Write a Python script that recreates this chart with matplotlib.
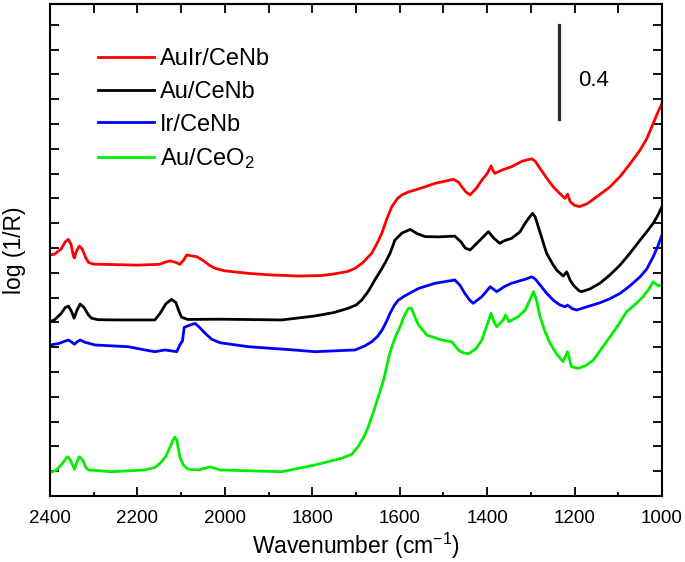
#Plot of the DRIFT spectra for the CeNb catalysts

#imports
import matplotlib
matplotlib.use("Agg")
import matplotlib.pyplot as plt

plt.rcParams['font.family'] = ['Liberation Sans', 'DejaVu Sans']
plt.rcParams['mathtext.fontset'] = 'custom'
plt.rcParams['mathtext.rm'] = 'Liberation Sans'
plt.rcParams['mathtext.it'] = 'Liberation Sans'

#data (wavenumber in cm-1, log(1/R) in arbitrary offset units)
auirWn = [2400, 2390, 2375, 2365, 2358, 2352, 2346, 2344, 2340, 2333, 2326, 2318, 2312, 2300,
          2200, 2150, 2135, 2125, 2112, 2103, 2095, 2087, 2075, 2064, 2050, 2035, 2022, 2000,
          1947, 1900, 1833, 1780, 1756, 1720, 1702, 1685, 1664, 1650, 1641, 1630, 1618, 1605,
          1595, 1580, 1565, 1540, 1519, 1495, 1477, 1465, 1458, 1448, 1439, 1425, 1412, 1400,
          1391, 1386, 1382, 1365, 1344, 1320, 1298, 1290, 1279, 1265, 1249, 1235, 1222, 1216,
          1210, 1200, 1188, 1170, 1149, 1120, 1096, 1075, 1050, 1035, 1020, 1010, 1000]
auirY = [0.972, 0.975, 0.995, 1.025, 1.035, 1.015, 0.965, 0.960, 0.985, 1.008, 0.995, 0.960, 0.942, 0.935,
         0.931, 0.934, 0.944, 0.948, 0.942, 0.934, 0.950, 0.972, 0.968, 0.965, 0.950, 0.930, 0.918, 0.908,
         0.898, 0.892, 0.887, 0.889, 0.894, 0.905, 0.918, 0.940, 0.979, 1.025, 1.059, 1.115, 1.167, 1.200,
         1.214, 1.226, 1.234, 1.248, 1.261, 1.270, 1.277, 1.265, 1.247, 1.225, 1.214, 1.240, 1.274, 1.300,
         1.331, 1.310, 1.301, 1.315, 1.328, 1.350, 1.360, 1.350, 1.321, 1.285, 1.247, 1.222, 1.200, 1.217,
         1.187, 1.172, 1.167, 1.180, 1.207, 1.245, 1.288, 1.335, 1.395, 1.440, 1.503, 1.545, 1.583]

auWn = [2400, 2390, 2375, 2365, 2358, 2351, 2345, 2338, 2331, 2322, 2312, 2305, 2290, 2250,
        2160, 2148, 2135, 2122, 2112, 2105, 2099, 2085, 2011, 1870, 1794, 1750, 1718, 1700,
        1687, 1672, 1657, 1645, 1634, 1622, 1611, 1595, 1576, 1560, 1542, 1510, 1474, 1460,
        1450, 1439, 1420, 1397, 1385, 1371, 1360, 1344, 1325, 1313, 1305, 1296, 1290, 1283,
        1264, 1250, 1241, 1226, 1218, 1210, 1203, 1190, 1184, 1165, 1142, 1120, 1096, 1075,
        1050, 1035, 1020, 1010, 1000]
auY = [0.703, 0.710, 0.735, 0.760, 0.766, 0.745, 0.717, 0.750, 0.774, 0.760, 0.730, 0.717, 0.711, 0.710,
       0.710, 0.737, 0.775, 0.793, 0.780, 0.745, 0.721, 0.712, 0.713, 0.710, 0.726, 0.740, 0.757, 0.770,
       0.790, 0.825, 0.871, 0.905, 0.938, 0.979, 1.032, 1.060, 1.075, 1.058, 1.046, 1.045, 1.048, 1.025,
       1.000, 0.992, 1.025, 1.066, 1.040, 1.019, 1.030, 1.039, 1.065, 1.100, 1.120, 1.140, 1.125, 1.086,
       0.979, 0.935, 0.911, 0.887, 0.904, 0.870, 0.851, 0.828, 0.824, 0.835, 0.858, 0.890, 0.931, 0.975,
       1.032, 1.065, 1.100, 1.130, 1.167]

irWn = [2400, 2380, 2365, 2358, 2350, 2344, 2338, 2331, 2320, 2297, 2221, 2183, 2160, 2137,
        2110, 2103, 2097, 2093, 2085, 2075, 2068, 2058, 2045, 2030, 2011, 1946, 1850, 1794,
        1702, 1680, 1664, 1650, 1640, 1630, 1622, 1612, 1603, 1590, 1575, 1557, 1519, 1495,
        1474, 1462, 1451, 1440, 1432, 1412, 1393, 1378, 1360, 1344, 1313, 1298, 1290, 1279,
        1265, 1249, 1235, 1222, 1216, 1205, 1195, 1172, 1142, 1120, 1096, 1075, 1050, 1035,
        1020, 1010, 1000]
irY = [0.609, 0.615, 0.625, 0.629, 0.620, 0.612, 0.622, 0.629, 0.620, 0.609, 0.602, 0.589, 0.582, 0.589,
       0.582, 0.609, 0.625, 0.680, 0.686, 0.692, 0.696, 0.680, 0.656, 0.632, 0.618, 0.602, 0.590, 0.582,
       0.589, 0.605, 0.622, 0.645, 0.670, 0.705, 0.737, 0.770, 0.790, 0.805, 0.820, 0.837, 0.858, 0.865,
       0.871, 0.850, 0.817, 0.790, 0.777, 0.804, 0.844, 0.824, 0.845, 0.858, 0.874, 0.884, 0.875, 0.851,
       0.820, 0.790, 0.772, 0.763, 0.770, 0.755, 0.750, 0.763, 0.779, 0.795, 0.817, 0.845, 0.884, 0.915,
       0.965, 1.005, 1.052]

ceoWn = [2400, 2385, 2370, 2362, 2358, 2352, 2344, 2338, 2333, 2325, 2318, 2312, 2259, 2183,
         2160, 2148, 2135, 2125, 2118, 2114, 2110, 2103, 2095, 2084, 2061, 2045, 2034, 2020,
         2011, 1870, 1794, 1733, 1710, 1695, 1680, 1672, 1660, 1649, 1640, 1634, 1625, 1618,
         1608, 1599, 1590, 1580, 1573, 1565, 1557, 1538, 1504, 1481, 1466, 1455, 1443, 1425,
         1412, 1400, 1391, 1384, 1378, 1363, 1358, 1350, 1329, 1313, 1300, 1294, 1287, 1279,
         1268, 1256, 1240, 1226, 1216, 1207, 1191, 1175, 1157, 1140, 1119, 1100, 1081, 1060,
         1043, 1030, 1020, 1008, 1000]
ceoY = [0.094, 0.105, 0.135, 0.155, 0.158, 0.140, 0.108, 0.140, 0.158, 0.145, 0.115, 0.105, 0.098, 0.105,
        0.115, 0.132, 0.160, 0.199, 0.228, 0.237, 0.225, 0.158, 0.125, 0.108, 0.105, 0.112, 0.118, 0.110,
        0.105, 0.098, 0.125, 0.152, 0.168, 0.199, 0.245, 0.279, 0.340, 0.400, 0.450, 0.488, 0.560, 0.602,
        0.650, 0.683, 0.725, 0.757, 0.757, 0.720, 0.690, 0.649, 0.629, 0.622, 0.589, 0.578, 0.573, 0.595,
        0.629, 0.690, 0.737, 0.700, 0.683, 0.710, 0.730, 0.703, 0.723, 0.750, 0.800, 0.824, 0.790, 0.723,
        0.665, 0.616, 0.570, 0.542, 0.582, 0.521, 0.515, 0.525, 0.548, 0.590, 0.642, 0.690, 0.743, 0.775,
        0.804, 0.835, 0.864, 0.847, 0.851]

labels = ['AuIr/CeNb', 'Au/CeNb', 'Ir/CeNb', 'Au/CeO$_2$']
colors = ['#ff0000', '#000000', '#0000ff', '#00ee00']

#scale bar (0.4 units)
barWn = [1236, 1236]
barY = [1.52, 1.90]

#Create the plot
fig = plt.figure(figsize=(6.85, 5.62), dpi=100)
ax = fig.add_axes([0.073, 0.1174, 0.8934, 0.8755])

series = [(auirWn, auirY), (auWn, auY), (irWn, irY), (ceoWn, ceoY)]
for (wn, y), lab, col in zip(series, labels, colors):
	ax.plot(wn, y, color=col, lw=2, label=lab)

ax.plot(barWn, barY, color='#2e2824', lw=2.3)
ax.text(1191, 1.677, '0.4', fontsize=16, ha='left', va='center')

#axes
ax.set_xlim(2400, 1000)
ax.set_ylim(0, 1.984)
ax.set_xticks(range(2400, 999, -200))
ax.set_xticks(range(2300, 999, -200), minor=True)
ax.set_yticks([i / 10 for i in range(1, 20)])
ax.set_yticklabels([])
ax.tick_params(axis='both', which='major', direction='in', length=6.5, width=1.3,
               labelsize=13.5)
ax.tick_params(axis='x', which='major', pad=10)
ax.tick_params(axis='y', which='major', pad=3, right=True)
ax.tick_params(axis='x', which='minor', direction='in', length=3, width=1.3)
for s in ax.spines.values():
	s.set_linewidth(1.5)

top = ax.secondary_xaxis('top')
top.set_xticks(range(2400, 999, -100))
top.set_xticklabels([])
top.tick_params(direction='in', length=6.5, width=1.3)
top.spines['top'].set_linewidth(1.5)

#label the axies
ax.set_xlabel('Wavenumber (cm$^{-1}$)', fontsize=16.5, labelpad=3)
ax.set_ylabel('log (1/R)', fontsize=16.5, labelpad=14)

ax.legend(loc='upper left', bbox_to_anchor=(0.078, 0.91), frameon=False, fontsize=17,
          handlelength=2.4, handletextpad=0.25, labelspacing=0.45, borderpad=0, borderaxespad=0)

#output the figure
fig.savefig('out.png', dpi=100)
